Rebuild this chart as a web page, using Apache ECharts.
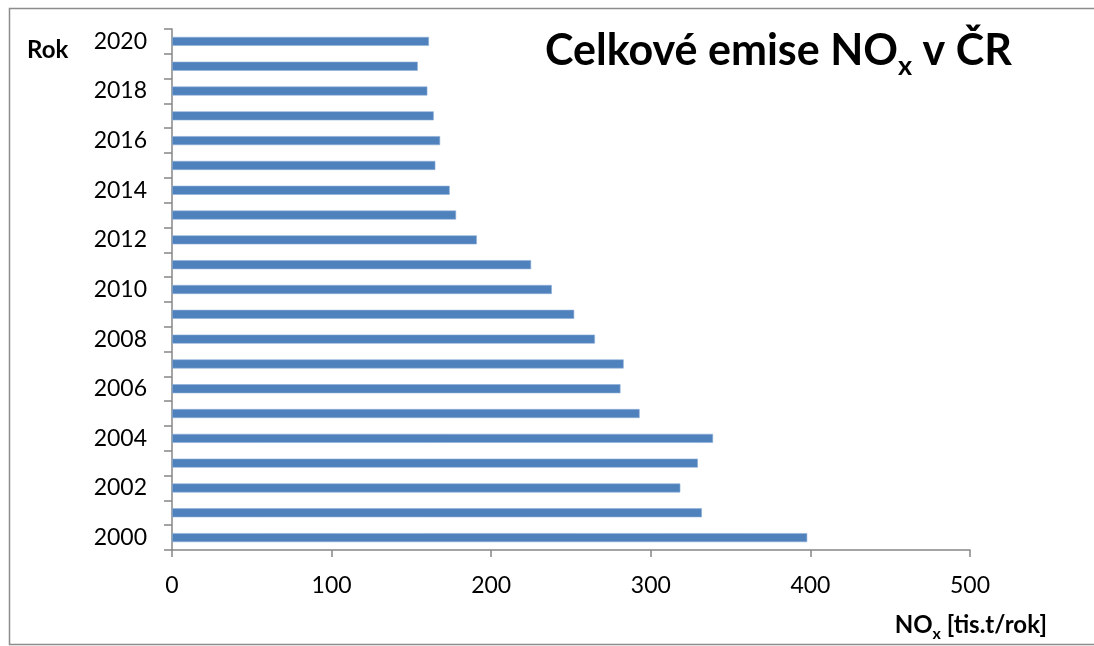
<!DOCTYPE html>
<html>
<head>
<meta charset="utf-8">
<script src="https://cdn.jsdelivr.net/npm/echarts@6/dist/echarts.min.js"></script>
<style>
  html, body { margin: 0; padding: 0; background: #fff; }
  #chart { width: 1094px; height: 646px; }
</style>
</head>
<body>
<div id="chart"></div>
<script>
// Roky (kategorie osy Y) a celkové emise NOx v tis. t/rok
const years = ['2000','2001','2002','2003','2004','2005','2006','2007','2008','2009','2010',
               '2011','2012','2013','2014','2015','2016','2017','2018','2019','2020'];
const noxValues = [398, 332, 318.5, 329.5, 339, 293, 281, 283, 265, 252, 238,
                   225, 191, 178, 174, 165, 168, 164, 160, 154, 161];
const xTicks = [0, 100, 200, 300, 400, 500];

const FONT = 'Lato, "Open Sans", sans-serif';
const AXIS_GRAY = '#868686';

const chart = echarts.init(document.getElementById('chart'), null, { renderer: 'canvas' });

chart.setOption({
  backgroundColor: '#ffffff',
  animation: false,
  title: {
    text: '{a|Celkové emise NO}{s|x}{a| v ČR}',
    left: 540,
    top: 18,
    textStyle: {
      rich: {
        a: { fontFamily: FONT, fontWeight: 'bold', fontSize: 43, color: '#000', lineHeight: 50, verticalAlign: 'bottom' },
        s: { fontFamily: FONT, fontWeight: 'bold', fontSize: 27, color: '#000', lineHeight: 27, verticalAlign: 'bottom', padding: [0, 0, -7, 0] }
      }
    }
  },
  grid: { left: 172, right: 124, top: 29, bottom: 96, containLabel: false },
  xAxis: {
    type: 'value',
    min: xTicks[0],
    max: xTicks[xTicks.length - 1],
    interval: 100,
    axisLine: { show: true, lineStyle: { color: AXIS_GRAY, width: 1.5 } },
    axisTick: { show: true, length: 7, lineStyle: { color: AXIS_GRAY, width: 1.5 } },
    splitLine: { show: false },
    axisLabel: { color: '#000', fontFamily: FONT, fontSize: 23, margin: 24 }
  },
  yAxis: {
    type: 'category',
    data: years,
    axisLine: { show: true, lineStyle: { color: AXIS_GRAY, width: 1.5 } },
    axisTick: { show: true, interval: 0, length: 8, lineStyle: { color: AXIS_GRAY, width: 1.5 } },
    axisLabel: { interval: 1, color: '#000', fontFamily: FONT, fontSize: 23, margin: 25 },
    splitLine: { show: false }
  },
  series: [{
    type: 'bar',
    data: noxValues,
    barWidth: 9,
    itemStyle: { color: '#4F81BD', borderColor: '#8fb0d8', borderWidth: 0.6 }
  }],
  graphic: [
    {
      type: 'rect',
      shape: { x: 9.5, y: 8.5, width: 1100, height: 636 },
      style: { fill: null, stroke: '#8c8c8c', lineWidth: 1.5 },
      silent: true, z: -1
    },
    {
      type: 'text',
      left: 27, top: 38,
      style: { text: 'Rok', fontFamily: FONT, fontWeight: 'bold', fontSize: 24, fill: '#000' }
    },
    {
      type: 'text',
      right: 47, top: 613,
      style: {
        text: '{a|NO}{s|x}{a| [tis.t/rok]}',
        rich: {
          a: { fontFamily: FONT, fontWeight: 'bold', fontSize: 24, fill: '#000', lineHeight: 28, verticalAlign: 'bottom' },
          s: { fontFamily: FONT, fontWeight: 'bold', fontSize: 16, fill: '#000', lineHeight: 16, verticalAlign: 'bottom', padding: [0, 0, -5, 0] }
        }
      }
    }
  ]
});
</script>
</body>
</html>
